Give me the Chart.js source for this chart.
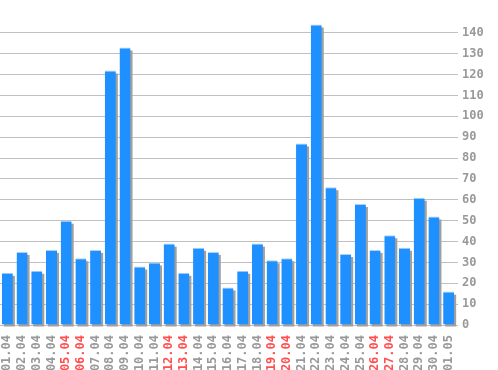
<!DOCTYPE html>
<html>
<head>
<meta charset="utf-8">
<script src="https://cdn.jsdelivr.net/npm/chart.js@4/dist/chart.umd.min.js"></script>
<style>
    html, body { margin: 0; padding: 0; background: #fff; }
    #wrap { width: 498px; height: 370px; position: relative; }
</style>
</head>
<body>
<div id="wrap"><canvas id="visits-chart"></canvas></div>
<script>
const days = ['01.04', '02.04', '03.04', '04.04', '05.04', '06.04', '07.04', '08.04', '09.04', '10.04',
    '11.04', '12.04', '13.04', '14.04', '15.04', '16.04', '17.04', '18.04', '19.04', '20.04',
    '21.04', '22.04', '23.04', '24.04', '25.04', '26.04', '27.04', '28.04', '29.04', '30.04', '01.05'];
const visits = [25, 35, 26, 36, 50, 32, 36, 122, 133, 28,
    30, 39, 25, 37, 35, 18, 26, 39, 31, 32,
    87, 144, 66, 34, 58, 36, 43, 37, 61, 52, 16];
const weekendDays = ['05.04', '06.04', '12.04', '13.04', '19.04', '20.04', '26.04', '27.04'];

const chartColors = {
    bar: 'rgb(30, 144, 255)',
    barTop: 'rgb(176, 208, 240)',
    shadow: 'rgb(160, 160, 160)',
    grid: 'rgb(192, 192, 192)',
    text: 'rgb(153, 153, 153)',
    weekend: 'rgb(255, 80, 80)'
};

// grey drop shadow behind each bar, taken from the bar elements themselves
const barShadow = {
    id: 'barShadow',
    beforeDatasetsDraw(chart) {
        const ctx = chart.ctx;
        const meta = chart.getDatasetMeta(0);
        ctx.save();
        ctx.fillStyle = chartColors.shadow;
        meta.data.forEach(bar => {
            const p = bar.getProps(['x', 'y', 'base', 'width'], true);
            const left = p.x - p.width / 2 + 2;
            ctx.fillRect(left, p.y + 3, p.width, p.base - p.y - 1);
        });
        ctx.restore();
    }
};

const monoFont = { family: '"DejaVu Sans Mono", monospace', size: 12, weight: 'bold' };

new Chart(document.getElementById('visits-chart'), {
    type: 'bar',
    data: {
        labels: days,
        datasets: [{
            data: visits,
            backgroundColor: chartColors.bar,
            borderColor: chartColors.barTop,
            borderWidth: { top: 1, left: 0, right: 0, bottom: 0 },
            borderSkipped: 'bottom',
            barPercentage: 0.75,
            categoryPercentage: 1
        }]
    },
    options: {
        responsive: true,
        maintainAspectRatio: false,
        animation: false,
        layout: { padding: { top: 12, left: -2, right: 0, bottom: 0 } },
        plugins: { legend: { display: false }, tooltip: { enabled: false } },
        scales: {
            x: {
                grid: { display: false },
                border: { display: false },
                ticks: {
                    font: monoFont,
                    minRotation: 90,
                    maxRotation: 90,
                    padding: 2,
                    autoSkip: false,
                    color: c => weekendDays.includes(days[c.index]) ? chartColors.weekend : chartColors.text
                },
                afterFit: scale => { scale.height = 45; }
            },
            y: {
                position: 'right',
                min: 0,
                max: 150,
                afterBuildTicks: scale => {
                    scale.ticks = scale.ticks.filter(t => t.value <= 140);
                },
                grid: { color: chartColors.grid, lineWidth: 1, tickLength: 2, drawTicks: true },
                border: { display: false },
                ticks: {
                    stepSize: 10,
                    font: monoFont,
                    color: chartColors.text,
                    padding: 4
                },
                afterFit: scale => { scale.width = 42; }
            }
        }
    },
    plugins: [barShadow]
});
</script>
</body>
</html>
